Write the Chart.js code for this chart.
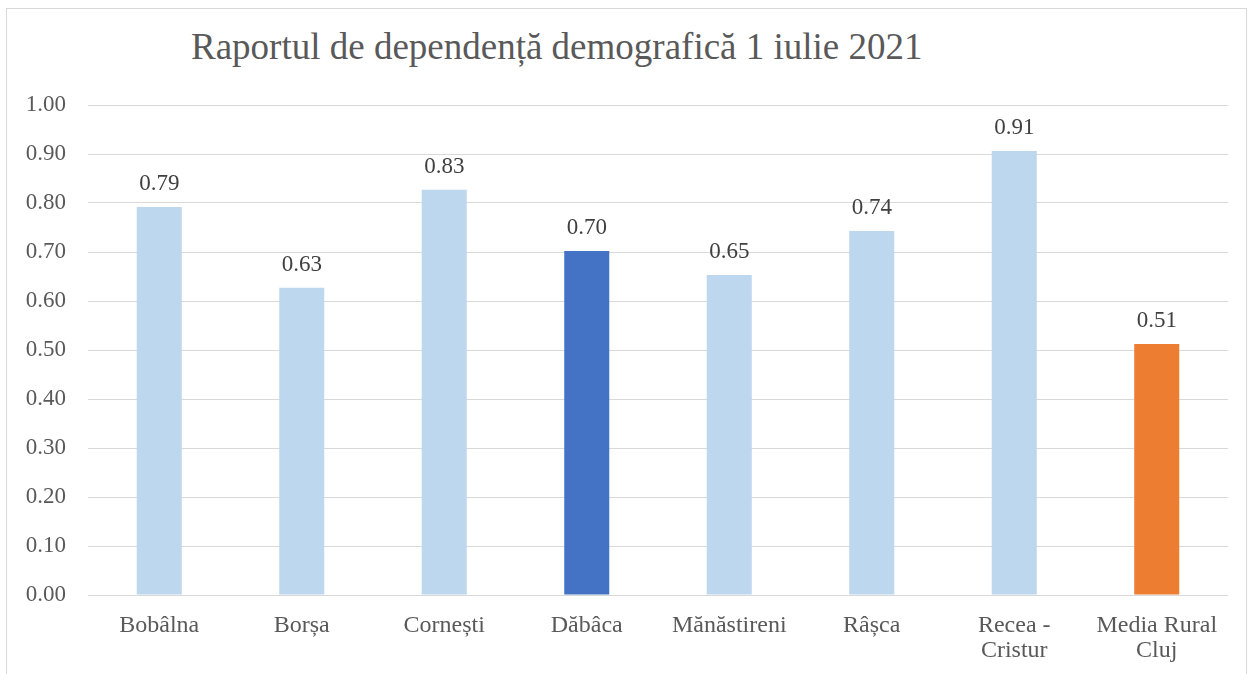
<!DOCTYPE html>
<html>
<head>
<meta charset="utf-8">
<script src="https://cdn.jsdelivr.net/npm/chart.js@4"></script>
<style>
  html, body { margin: 0; padding: 0; background: #fff; }
  #wrap { position: relative; width: 1250px; height: 674px; overflow: hidden; }
  #frame { position: absolute; left: 6px; top: 8px; width: 1241px; height: 700px; border: 1px solid #D9D9D9; box-sizing: border-box; }
  #title { position: absolute; left: 191px; top: 25px; font-family: "Liberation Serif", "Times New Roman", serif; font-size: 37px; color: #595959; white-space: nowrap; }
  canvas { position: absolute; left: 0; top: 0; }
</style>
</head>
<body>
<div id="wrap">
  <div id="frame"></div>
  <div id="title">Raportul de dependență demografică 1 iulie 2021</div>
  <canvas id="chart" width="1250" height="674"></canvas>
</div>
<script>
// date
const categories = ["Bobâlna", "Borșa", "Cornești", "Dăbâca", "Mănăstireni", "Râșca", ["Recea -", "Cristur"], ["Media Rural", "Cluj"]];
const values = [0.792, 0.627, 0.827, 0.702, 0.653, 0.743, 0.906, 0.512];
const barColors = ["#BDD7EE", "#BDD7EE", "#BDD7EE", "#4472C4", "#BDD7EE", "#BDD7EE", "#BDD7EE", "#ED7D31"];
const yTicks = [0, 0.1, 0.2, 0.3, 0.4, 0.5, 0.6, 0.7, 0.8, 0.9, 1.0];

const serif = '"Liberation Serif", "Times New Roman", serif';

const valueLabels = {
  id: "valueLabels",
  afterDatasetsDraw(chart) {
    const ctx = chart.ctx;
    const meta = chart.getDatasetMeta(0);
    ctx.save();
    ctx.font = "23px " + serif;
    ctx.fillStyle = "#404040";
    ctx.textAlign = "center";
    ctx.textBaseline = "alphabetic";
    meta.data.forEach((bar, i) => {
      ctx.fillText(values[i].toFixed(2), bar.x, bar.y - 17);
    });
    ctx.restore();
  }
};

new Chart(document.getElementById("chart"), {
  type: "bar",
  data: {
    labels: categories,
    datasets: [{
      data: values,
      backgroundColor: barColors,
      categoryPercentage: 1,
      barPercentage: 0.316
    }]
  },
  options: {
    responsive: false,
    animation: false,
    layout: { padding: { top: 105, right: 22, left: 0, bottom: 0 } },
    plugins: {
      legend: { display: false },
      title: { display: false },
      tooltip: { enabled: false }
    },
    scales: {
      x: {
        grid: { display: false, drawTicks: false },
        border: { display: false },
        ticks: {
          color: "#595959",
          font: { family: serif, size: 24, lineHeight: 1.05 },
          padding: 18,
          maxRotation: 0,
          autoSkip: false
        },
        afterFit(axis) { axis.height = 79; }
      },
      y: {
        min: 0,
        max: 1,
        afterBuildTicks(axis) { axis.ticks = yTicks.map(v => ({ value: v })); },
        grid: { color: "#D9D9D9", lineWidth: 1, drawTicks: false },
        border: { display: false },
        ticks: {
          color: "#595959",
          font: { family: serif, size: 23 },
          padding: 22,
          callback: v => Number(v).toFixed(2)
        },
        afterFit(axis) { axis.width = 88; }
      }
    }
  },
  plugins: [valueLabels]
});
</script>
</body>
</html>
